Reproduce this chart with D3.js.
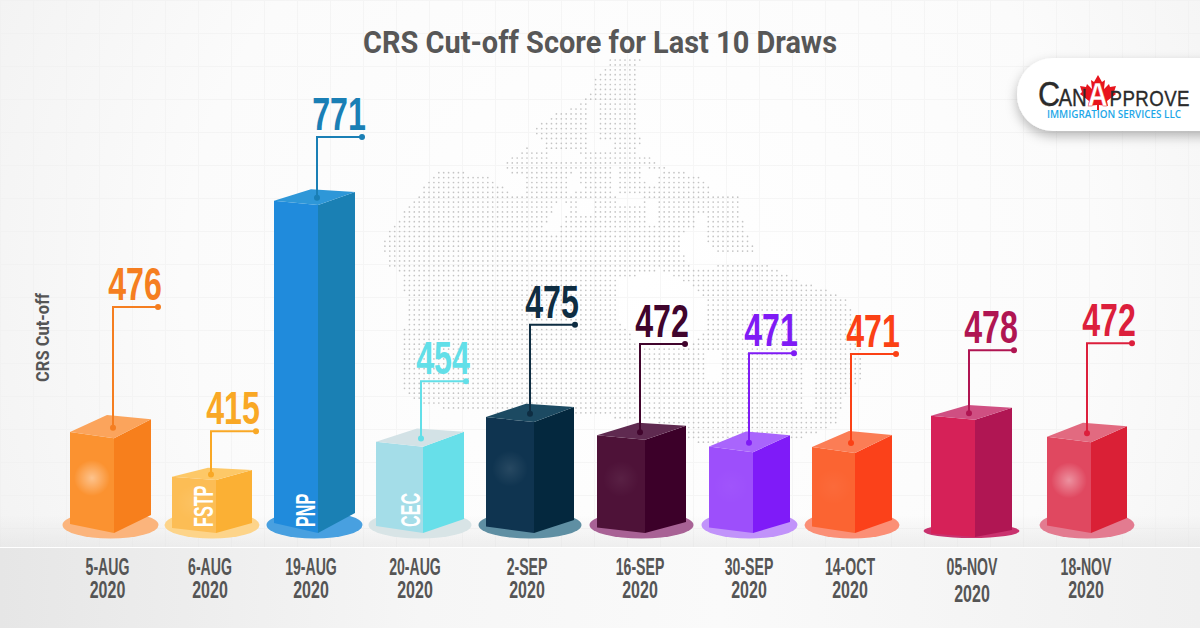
<!DOCTYPE html>
<html>
<head>
<meta charset="utf-8">
<script src="https://cdnjs.cloudflare.com/ajax/libs/d3/7.8.5/d3.min.js"></script>
<style>
html, body { margin: 0; padding: 0; background: #fff; }
svg { display: block; }
text { font-family: "Liberation Sans", Arial, sans-serif; font-weight: 700; }
</style>
</head>
<body>
<svg id="chart" width="1200" height="628"></svg>
<script>
'use strict'

// values
const dates = ['5-AUG', '6-AUG', '19-AUG', '20-AUG', '2-SEP', '16-SEP', '30-SEP', '14-OCT', '05-NOV', '18-NOV']
const years = ['2020', '2020', '2020', '2020', '2020', '2020', '2020', '2020', '2020', '2020']
const scores = [476, 415, 771, 454, 475, 472, 471, 471, 478, 472]
// the artist did not draw the bars exactly to the printed score: this is the
// level each bar actually reaches on one common linear axis
const drawnLevels = [469, 415, 771, 458, 490, 467, 451, 450, 493, 464]
// level at which each callout elbow sits, on the same axis
const calloutLevels = [639, 478, 859, 543, 616, 591, 579, 578, 583, 592]
const drawTypes = ['', 'FSTP', 'PNP', 'CEC', '', '', '', '', '', '']

const title = 'CRS Cut-off Score for Last 10 Draws'
const yLabel = 'CRS Cut-off'

const svg = d3.select('#chart')
const defs = svg.append('defs')

// scales
const baseY = 533
const y = d3.scaleLinear().domain([346.4, 771]).range([baseY, 205])
const barLeft = d3.scaleOrdinal(dates, [70, 172, 274, 376, 486, 597, 709, 812, 931, 1047])
const barSplit = d3.scaleOrdinal(dates, [114, 216, 318, 423, 534, 645, 753, 855, 975, 1091])
const barRight = d3.scaleOrdinal(dates, [151, 252, 355, 464, 574, 686, 790, 892, 1012, 1127])
const leaderPos = d3.scaleOrdinal(dates, [113, 211, 317, 421, 530, 640, 749, 851, 969, 1087])
const dateX = d3.scaleOrdinal(dates, [107.5, 210, 311, 415, 527, 640, 749, 850, 972, 1086])
// camera tilt of each box, and how far the base sits below the row (05-NOV is lower)
const topTilt = d3.scaleOrdinal(dates, [19, 10, 13, 15, 15, 14, 17, 18, 12, 16])
const baseTilt = d3.scaleOrdinal(dates, [18, 10, 20, 14, 13, 11, 11, 13, 7, 15])
const drop = d3.scaleOrdinal(dates, [0, 0, 0, 0, 0, 0, 0, 0, 4, 0])

const frontColor = d3.scaleOrdinal(dates, ['#fb9230', '#fcbd55', '#208bdc', '#a4dde8', '#0f3450', '#4e1238', '#9d4ffb', '#fb6432', '#d62158', '#e04860'])
const sideColor = d3.scaleOrdinal(dates, ['#f77f1c', '#fbb034', '#1a80b4', '#67dfe9', '#04283e', '#3c0029', '#7f1bf8', '#fb411a', '#b01653', '#da2036'])
const topColor = d3.scaleOrdinal(dates, ['#fba45c', '#fdc867', '#2e97d8', '#d3e2e6', '#1c4a62', '#5f2a50', '#a965fc', '#fb7d55', '#cf4f82', '#e26a80'])
const plateColor = d3.scaleOrdinal(dates, ['#fbb47c', '#fdd48a', '#48a0e0', '#d8e4e6', '#5f8fa3', '#a86295', '#c193fa', '#fb8f76', '#c9326e', '#e37b90'])
const inkColor = d3.scaleOrdinal(dates, ['#f57e20', '#f9a825', '#1a7fb5', '#62dfe8', '#0e2d42', '#40042c', '#7f1bf5', '#fb4115', '#b01552', '#dc1f3c'])
const glow = d3.scaleOrdinal(dates, [0.45, 0.08, 0, 0, 0.1, 0.06, 0.03, 0.04, 0, 0.4])

// ---------- background ----------
const bgGrad = defs.append('radialGradient').attr('id', 'bg')
  .attr('gradientUnits', 'userSpaceOnUse').attr('cx', 640).attr('cy', 280).attr('r', 760)
bgGrad.append('stop').attr('offset', '0').attr('stop-color', '#ffffff')
bgGrad.append('stop').attr('offset', '0.6').attr('stop-color', '#fbfbfb')
bgGrad.append('stop').attr('offset', '1').attr('stop-color', '#f1f1f1')
svg.append('rect').attr('width', 1200).attr('height', 628).attr('fill', 'url(#bg)')

const grid = svg.append('g').attr('stroke', '#f0f0f0').attr('stroke-width', 1).attr('opacity', 0.55)
d3.range(0, 1200, 33).forEach(function(gx){
  grid.append('line').attr('x1', gx + 0.5).attr('x2', gx + 0.5).attr('y1', 0).attr('y2', 628)
})
d3.range(0, 628, 33).forEach(function(gy){
  grid.append('line').attr('y1', gy + 0.5).attr('y2', gy + 0.5).attr('x1', 0).attr('x2', 1200)
})

// floor strip
const floorGrad = defs.append('linearGradient').attr('id', 'floor')
floorGrad.append('stop').attr('offset', '0').attr('stop-color', '#e6e6e6')
floorGrad.append('stop').attr('offset', '0.35').attr('stop-color', '#f6f6f6')
floorGrad.append('stop').attr('offset', '0.6').attr('stop-color', '#fafafa')
floorGrad.append('stop').attr('offset', '1').attr('stop-color', '#f0f0f0')
const fadeGrad = defs.append('linearGradient').attr('id', 'fade').attr('x2', 0).attr('y2', 1)
fadeGrad.append('stop').attr('offset', '0').attr('stop-color', '#ddd').attr('stop-opacity', 0)
fadeGrad.append('stop').attr('offset', '1').attr('stop-color', '#ddd').attr('stop-opacity', 0.45)
svg.append('rect').attr('y', 515).attr('width', 1200).attr('height', 32).attr('fill', 'url(#fade)')
svg.append('rect').attr('y', 547).attr('width', 1200).attr('height', 81).attr('fill', 'url(#floor)')
svg.append('line').attr('x1', 0).attr('x2', 1200).attr('y1', 547.5).attr('y2', 547.5).attr('stroke', '#fff').attr('stroke-width', 1)

// ---------- dotted map of Canada (decoration, outline) ----------
const mapOutline = [[382,245],[388,230],[403,213],[418,195],[428,180],[442,168],[490,178],[510,193],[523,197],[523,177],[503,170],[510,157],[527,148],[540,153],[547,147],[533,130],[543,122],[557,112],[573,107],[590,93],[593,80],[610,60],[640,60],[637,93],[637,130],[643,142],[637,153],[650,157],[663,167],[700,177],[713,193],[740,195],[742,220],[750,237],[757,253],[720,255],[693,227],[680,240],[685,257],[693,267],[763,263],[797,280],[830,290],[847,300],[860,330],[863,380],[845,395],[835,425],[800,440],[700,445],[650,420],[570,415],[470,412],[425,405],[405,395],[400,375],[403,335],[407,320],[403,275],[390,268]]
const mapHoles = [
  [[617,280],[660,270],[693,285],[707,300],[707,330],[690,345],[640,345],[617,320]],
  [[707,353],[723,353],[723,380],[707,380]],
  [[803,362],[815,362],[815,410],[803,410]],
  [[567,175],[577,172],[582,190],[570,193]],
  [[612,165],[620,165],[620,195],[612,195]],
  [[577,198],[592,198],[592,216],[577,216]],
  [[620,196],[640,196],[640,205],[620,205]],
  [[547,150],[580,150],[582,160],[547,162]],
  [[590,122],[596,122],[596,152],[590,152]],
  [[648,200],[656,200],[656,225],[648,225]],
  [[590,103],[597,103],[597,120],[590,120]],
  [[600,140],[612,140],[612,150],[600,150]],
  [[640,165],[660,172],[655,185],[640,180]],
  [[560,200],[570,205],[555,235],[545,225]],
  [[695,215],[705,215],[705,240],[695,240]]
]
const mapDots = []
d3.range(380, 870, 4.9).forEach(function(mx){
  d3.range(60, 450, 4.9).forEach(function(my){
    const p = [mx, my]
    if(d3.polygonContains(mapOutline, p) && !mapHoles.some(function(h){ return d3.polygonContains(h, p) })){
      mapDots.push(p)
    }
  })
})
svg.append('g').attr('fill', '#c4c4c4').selectAll('circle').data(mapDots).join('circle')
  .attr('cx', function(d){ return d[0] })
  .attr('cy', function(d){ return d[1] })
  .attr('r', 0.85)

// ---------- title ----------
svg.append('text').attr('x', 600).attr('y', 53).attr('text-anchor', 'middle')
  .attr('font-size', 32).attr('fill', '#575757')
  .attr('textLength', 474).attr('lengthAdjust', 'spacingAndGlyphs')
  .style('font-family', 'Roboto, sans-serif')
  .text(title)

svg.append('text').attr('transform', 'translate(49,382) rotate(-90)')
  .attr('font-size', 18).attr('fill', '#555')
  .attr('textLength', 89).attr('lengthAdjust', 'spacingAndGlyphs')
  .style('font-family', 'Roboto, sans-serif')
  .text(yLabel)

// ---------- bars ----------
const glowGrad = defs.append('radialGradient').attr('id', 'glow')
glowGrad.append('stop').attr('offset', '0').attr('stop-color', '#fff').attr('stop-opacity', 1)
glowGrad.append('stop').attr('offset', '1').attr('stop-color', '#fff').attr('stop-opacity', 0)

function mid(d){ return (barLeft(d) + barRight(d)) / 2 }
function pts(list){ return list.map(function(p){ return p.join(',') }).join(' ') }

const rows = dates.map(function(d, i){
  return { date: d, year: years[i], score: scores[i], level: drawnLevels[i], callout: calloutLevels[i], type: drawTypes[i] }
})

const bars = svg.append('g').selectAll('g').data(rows).join('g')

bars.append('ellipse')
  .attr('cx', function(d){ return mid(d.date) })
  .attr('cy', function(d){ return d.date === '05-NOV' ? baseY - 2 : baseY - 8 })
  .attr('rx', function(d){ return (barRight(d.date) - barLeft(d.date)) / 2 + 7.5 })
  .attr('ry', function(d){ return d.date === '05-NOV' ? 7 : 13.5 })
  .attr('fill', function(d){ return plateColor(d.date) })

function corners(d){
  const b = baseY + drop(d.date)
  const top = y(d.level)
  const l = barLeft(d.date), s = barSplit(d.date), r = barRight(d.date)
  const t = topTilt(d.date), u = baseTilt(d.date)
  return {
    lt: [l, top - t * 0.33], st: [s, top], rt: [r, top - t], bk: [l + r - s, top - t * 1.22],
    lb: [l, b - u * 0.5], sb: [s, b], rb: [r, b - u]
  }
}

bars.append('polygon')
  .attr('points', function(d){ const c = corners(d); return pts([c.lt, c.st, c.sb, c.lb]) })
  .attr('fill', function(d){ return frontColor(d.date) })
bars.append('polygon')
  .attr('points', function(d){ const c = corners(d); return pts([c.st, c.rt, c.rb, c.sb]) })
  .attr('fill', function(d){ return sideColor(d.date) })
bars.append('polygon')
  .attr('points', function(d){ const c = corners(d); return pts([c.lt, c.bk, c.rt, c.st]) })
  .attr('fill', function(d){ return topColor(d.date) })

bars.append('circle')
  .attr('cx', function(d){ return barLeft(d.date) + (barSplit(d.date) - barLeft(d.date)) * 0.5 })
  .attr('cy', function(d){ return y(d.level) + (baseY - y(d.level)) * 0.42 })
  .attr('r', 18)
  .attr('fill', 'url(#glow)')
  .attr('opacity', function(d){ return glow(d.date) })

// callouts
function leaderX(d){ return leaderPos(d.date) }
function dotY(d){ return y(d.level) - topTilt(d.date) * 0.55 }

bars.append('path')
  .attr('fill', 'none')
  .attr('stroke', function(d){ return inkColor(d.date) })
  .attr('stroke-width', 2)
  .attr('d', function(d){
    return 'M' + leaderX(d) + ',' + dotY(d) + 'V' + y(d.callout) + 'H' + (leaderX(d) + 45)
  })
bars.append('circle')
  .attr('cx', leaderX)
  .attr('cy', dotY)
  .attr('r', 3)
  .attr('fill', function(d){ return inkColor(d.date) })
bars.append('circle')
  .attr('cx', function(d){ return leaderX(d) + 45 })
  .attr('cy', function(d){ return y(d.callout) })
  .attr('r', 3)
  .attr('fill', function(d){ return inkColor(d.date) })

bars.append('text')
  .attr('text-anchor', 'middle')
  .attr('font-size', 46)
  .attr('fill', function(d){ return inkColor(d.date) })
  .attr('transform', function(d){
    return 'translate(' + (leaderX(d) + 22) + ',' + (y(d.callout) - 7) + ') scale(0.7,1)'
  })
  .text(function(d){ return d.score })

// draw type written up the front face
bars.filter(function(d){ return d.type !== '' }).append('text')
  .attr('font-size', 27)
  .attr('fill', '#fff')
  .attr('transform', function(d){
    return 'translate(' + (barSplit(d.date) - 3) + ',527) rotate(-90) scale(0.6,1)'
  })
  .text(function(d){ return d.type })

// date labels
bars.append('text')
  .attr('text-anchor', 'middle')
  .attr('font-size', 23.5)
  .attr('fill', '#555')
  .attr('transform', function(d){
    return 'translate(' + dateX(d.date) + ',575) scale(0.6,1)'
  })
  .text(function(d){ return d.date })
bars.append('text')
  .attr('text-anchor', 'middle')
  .attr('font-size', 23.5)
  .attr('fill', '#555')
  .attr('transform', function(d){
    return 'translate(' + dateX(d.date) + ',' + (598 + drop(d.date)) + ') scale(0.68,1)'
  })
  .text(function(d){ return d.year })

// ---------- logo ----------
const shadow = defs.append('filter').attr('id', 'logoShadow')
  .attr('x', '-20%').attr('y', '-30%').attr('width', '140%').attr('height', '170%')
shadow.append('feDropShadow').attr('dx', 0).attr('dy', 5).attr('stdDeviation', 6)
  .attr('flood-color', '#000').attr('flood-opacity', 0.28)

const logo = svg.append('g')
logo.append('rect').attr('x', 1017).attr('y', 58).attr('width', 240).attr('height', 73)
  .attr('rx', 36).attr('fill', '#fff').attr('filter', 'url(#logoShadow)')

const leaf = [[0,-15],[4,-8],[7,-10],[6,-1],[11,-6],[12,-3],[18,-4],[16,2],[18,4],[9,11],[10,16],[1,15],[1,20],[-1,20],[-1,15],[-10,16],[-9,11],[-18,4],[-16,2],[-18,-4],[-12,-3],[-11,-6],[-6,-1],[-7,-10],[-4,-8]]
logo.append('polygon').attr('points', pts(leaf))
  .attr('transform', 'translate(1098,90)').attr('fill', '#e8141c')

// the wordmark is one text, small capitals and the white A as tspans
const word = logo.append('text').attr('transform', 'translate(1038,106) scale(0.85,1)')
  .attr('fill', '#2b2b2b').attr('stroke', '#2b2b2b').attr('stroke-width', 0.35).style('font-weight', 400)
word.append('tspan').attr('font-size', 36).text('C')
word.append('tspan').attr('font-size', 24).attr('dx', -2).text('AN')
word.append('tspan').attr('font-size', 33).attr('dx', 1).attr('fill', '#fff').attr('stroke', '#e8141c')
  .style('font-weight', 700).text('A')
word.append('tspan').attr('font-size', 22).attr('dx', 2).style('letter-spacing', '0.5px').text('PPROVE')

logo.append('text').attr('x', 1047).attr('y', 118).attr('font-size', 10.5).attr('fill', '#1ea7e8')
  .style('font-family', '"Open Sans", sans-serif').style('font-weight', 600)
  .attr('textLength', 134).attr('lengthAdjust', 'spacingAndGlyphs').text('IMMIGRATION SERVICES LLC')
</script>
</body>
</html>
